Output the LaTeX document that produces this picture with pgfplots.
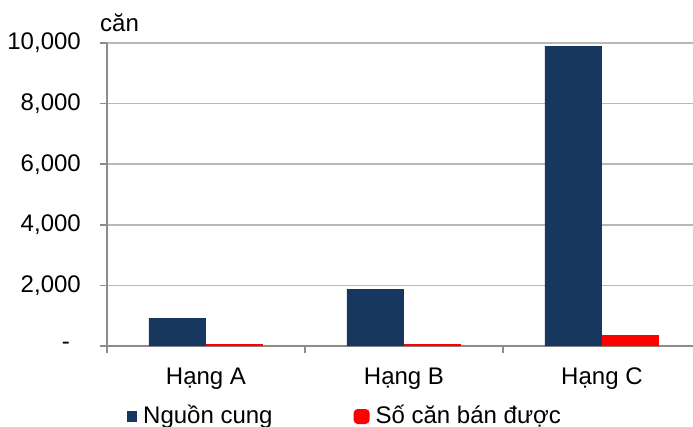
\documentclass[border=0pt]{standalone}
\usepackage{fontspec}
\setmainfont{Liberation Sans}
\usepackage{pgfplots}
\pgfplotsset{compat=1.18}

\definecolor{navyc}{HTML}{17375E}
\definecolor{redc}{HTML}{FF0000}
\definecolor{axisgray}{HTML}{8C8C8C}
\definecolor{gridgray}{HTML}{B8B8B8}

\newcommand{\lbl}{\fontsize{24bp}{28bp}\selectfont}

\begin{document}
\begin{tikzpicture}
\begin{axis}[
  scale only axis,
  width=586bp, height=303bp,
  at={(0,0)}, anchor=south west,
  xmin=-0.5, xmax=2.46,
  ymin=0, ymax=10000,
  scaled y ticks=false,
  axis x line*=bottom, axis y line*=left,
  axis line style={draw=axisgray, line width=2bp},
  tick align=outside,
  major tick length=7bp,
  tick style={draw=axisgray, line width=1.5bp},
  ymajorgrids,
  major grid style={draw=gridgray, line width=1.5bp},
  ytick={0,2000,4000,6000,8000,10000},
  yticklabels={{-\rule{11bp}{0pt}},{2,000},{4,000},{6,000},{8,000},{10,000}},
  yticklabel style={font=\lbl, anchor=east, inner sep=0pt, xshift=-19bp},
  xtick={-0.5,0.5,1.5,2.5},
  xticklabels={},
  extra x ticks={0,1,2},
  extra x tick labels={Hạng A,Hạng B,Hạng C},
  extra x tick style={major tick length=0pt, grid=none,
    xticklabel style={font=\lbl, anchor=north, inner sep=0pt, yshift=-22bp}},
  ybar=0pt, bar width=57bp,
  legend columns=2,
  legend style={at={(axis description cs:0,0)}, anchor=west,
    xshift=20bp, yshift=-71bp, draw=none, fill=none, inner sep=0pt,
    font=\lbl,
    nodes={inner sep=0pt, text height=17bp, text depth=5bp},
    /tikz/every odd column/.style={column sep=6bp},
    /tikz/every even column/.style={column sep=81bp}},
  legend cell align=left,
  clip=false,
]
\addplot[fill=navyc, draw=none,
  legend image code/.code={\fill[navyc] (0bp,-5bp) rectangle (10bp,6bp);}]
  coordinates {(0,920) (1,1880) (2,9900)};
\addplot[fill=redc, draw=none,
  legend image code/.code={\fill[redc, rounded corners=4bp] (0bp,-7bp) rectangle (16bp,8bp);}]
  coordinates {(0,60) (1,60) (2,360)};
\legend{Nguồn cung,Số căn bán được}
\node[anchor=base west, inner sep=0pt, font=\lbl, xshift=-7bp, yshift=11bp]
  at (rel axis cs:0,1) {căn};
\end{axis}
\pgfresetboundingbox
\useasboundingbox (-107bp,-81bp) rectangle (586bp,346bp);
\end{tikzpicture}
\end{document}
